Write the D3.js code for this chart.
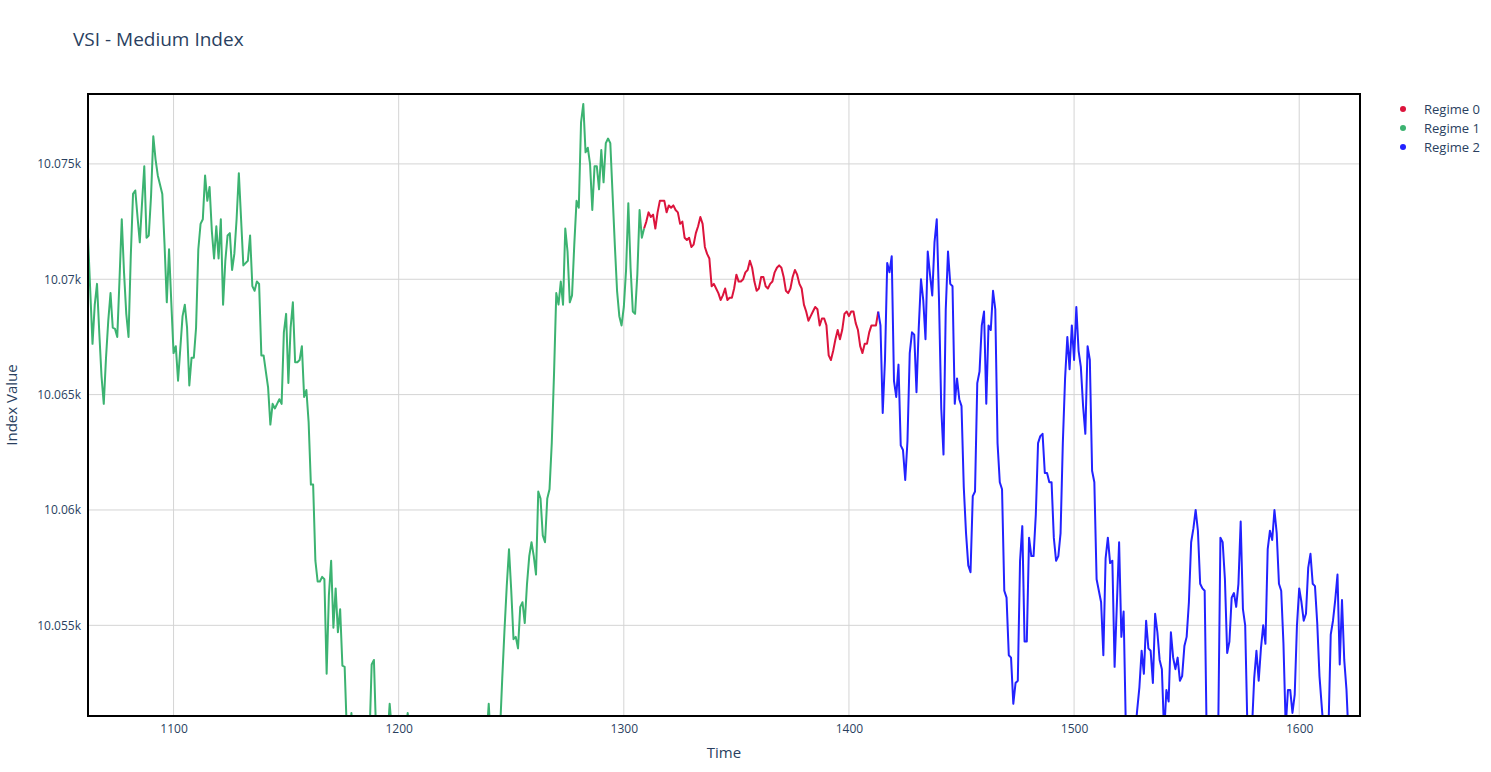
<!DOCTYPE html>
<html>
<head>
<meta charset="utf-8">
<script src="https://cdn.jsdelivr.net/npm/d3@7"></script>
<style>
  html, body { margin: 0; padding: 0; background: #fff; }
  svg { display: block; font-family: "Open Sans", verdana, arial, sans-serif; }
</style>
</head>
<body>
<svg id="chart" width="1491" height="772"></svg>
<script>
// ---------------- DATA ----------------
const chartTitle = "VSI - Medium Index";
const xAxisTitle = "Time";
const yAxisTitle = "Index Value";

const legendLabels = ["Regime 0", "Regime 1", "Regime 2"];

// Regime 1 : time 1062 .. 1309
const regime1Start = 1062;
const regime1Values = [
  10071.85,10069.5,10067.2,10068.9,10069.8,10067.7,10065.8,10064.6,10066.6,10068.2,
  10069.4,10067.9,10067.85,10067.5,10070,10072.6,10070.3,10068.5,10067.5,10071,
  10073.7,10073.85,10072.7,10071.6,10073.3,10074.9,10071.8,10071.9,10073.6,10076.2,
  10075.2,10074.5,10074.1,10073.7,10071.5,10069,10071.3,10069,10066.8,10067.1,
  10065.6,10067,10068.4,10068.9,10067.9,10065.4,10066.6,10066.6,10067.9,10071.3,
  10072.4,10072.6,10074.5,10073.4,10074,10072.1,10070.9,10072.3,10070.9,10072.6,
  10068.9,10070.8,10071.9,10072,10070.4,10071.1,10072.6,10074.6,10072.6,10070.6,
  10070.7,10070.8,10071.9,10069.7,10069.5,10069.9,10069.8,10066.7,10066.7,10066,
  10065.3,10063.7,10064.6,10064.4,10064.6,10064.8,10064.6,10067.7,10068.5,10065.5,
  10067.9,10069,10066.4,10066.4,10066.5,10067.1,10064.9,10065.2,10063.8,10061.1,
  10061.1,10057.8,10056.9,10056.9,10057.1,10057,10052.9,10056.3,10057.8,10054.9,
  10056.6,10054.7,10055.7,10053.25,10053.2,10050.3,10049.6,10051.2,10049.8,10049.2,
  10048.8,10049.5,10048.9,10048.3,10049,10050,10053.3,10053.5,10050.2,10049.4,
  10049.9,10049.1,10048.6,10050.1,10051.6,10050.4,10049.5,10048.8,10049.3,10048.5,
  10049.7,10050.2,10051.2,10050.3,10049.4,10048.7,10048.1,10047.6,10048.2,10047.9,
  10047.1,10046.8,10047.5,10046.9,10046.2,10046.8,10047.4,10046.9,10046.3,10045.8,
  10046.5,10047.1,10046.6,10047.3,10048,10047.4,10047.9,10048.5,10048.1,10048.8,
  10049.3,10048.7,10049.2,10049.8,10049.3,10049.9,10050.4,10050.1,10051.6,10049.8,
  10049.3,10049.9,10049.6,10050.4,10052.7,10054.8,10056.7,10058.3,10056.5,10054.4,
  10054.5,10054,10055.8,10056,10055.1,10056.8,10058,10058.6,10058,10057.2,
  10060.8,10060.5,10058.9,10058.6,10060.5,10060.9,10062.9,10065.9,10069.4,10068.9,
  10069.9,10068.9,10072.2,10071.2,10069,10069.3,10071.5,10073.4,10073.1,10076.8,
  10077.6,10075.5,10075.7,10075,10073,10074.9,10074.9,10073.9,10075.6,10074.2,
  10075.9,10076.1,10075.9,10073.7,10071.5,10069.5,10068.4,10068,10068.8,10070.4,
  10073.3,10070.5,10068.6,10068.5,10070.2,10073,10071.8,10072.2
];

// Regime 0 : time 1310 .. 1413
const regime0Start = 1310;
const regime0Values = [
  10072.5,10072.9,10072.7,10072.8,10072.2,10072.9,10073.4,10073.4,10073.4,10072.9,
  10073.2,10073.1,10073.2,10073,10072.9,10072.4,10072.5,10071.8,10071.7,10071.8,
  10071.4,10071.5,10072,10072.3,10072.7,10072.4,10071.4,10071.1,10070.9,10069.7,
  10069.8,10069.6,10069.4,10069.1,10069.3,10069.6,10069.1,10069.2,10069.2,10069.6,
  10070.2,10069.9,10069.9,10070,10070.3,10070.4,10070.8,10070.5,10069.9,10069.5,
  10069.6,10070.1,10070.1,10069.7,10069.6,10069.8,10069.9,10070.3,10070.5,10070.6,
  10070.5,10070.1,10069.5,10069.4,10069.6,10070.1,10070.4,10070.2,10069.8,10069.6,
  10068.9,10068.6,10068.2,10068.4,10068.6,10068.8,10068.7,10068,10068.3,10068.3,
  10068,10066.7,10066.5,10066.9,10067.4,10067.8,10067.4,10067.8,10068.5,10068.6,
  10068.4,10068.6,10068.6,10068.1,10067.8,10067.1,10066.8,10067.2,10067.2,10067.7,
  10068,10068,10068,10068.6
];

// Regime 2 : time 1414 .. 1627
const regime2Start = 1414;
const regime2Values = [
  10068,10064.2,10066.5,10070.7,10070.3,10071,10065.6,10064.9,10066.3,10062.8,
  10062.6,10061.3,10063,10066.8,10067.7,10067.6,10065.1,10067.9,10070,10069.1,
  10067.4,10071.2,10070.2,10069.3,10071.6,10072.6,10069.1,10064.4,10062.4,10068.7,
  10071.2,10069.8,10069.7,10064.6,10065.7,10064.8,10064.5,10061,10059,10057.6,
  10057.3,10060.6,10060.8,10065.5,10066,10068,10068.6,10064.6,10068,10067.8,
  10069.5,10068.7,10062.9,10061.2,10060.9,10056.5,10056.2,10053.7,10053.6,10051.6,
  10052.5,10052.6,10057.8,10059.3,10054.3,10054.3,10058.8,10058,10058,10059.8,
  10062.9,10063.2,10063.3,10061.6,10061.6,10061.2,10061.2,10058.8,10057.8,10058,
  10059,10062.9,10065.7,10067.5,10066.1,10068,10066.5,10068.8,10066.9,10066.2,
  10064.5,10063.3,10067.1,10066.5,10061.7,10061.2,10057,10056.5,10056,10053.7,
  10057.9,10058.8,10057.7,10057.8,10053.2,10055.9,10058.6,10054.5,10055.6,10050.5,
  10048.8,10048.5,10049.2,10050.2,10051.3,10052.3,10053.9,10052.9,10055.2,10054,
  10053.9,10052.5,10055.5,10054.7,10053.5,10053.1,10050.3,10052.2,10051.7,10054.7,
  10053.6,10053.1,10053.6,10052.6,10052.8,10054.1,10054.5,10056,10058.6,10059.2,
  10060,10059.1,10056.8,10056.6,10056.5,10049.5,10047.5,10047,10047.5,10048.5,
  10050.2,10058.8,10058.6,10057,10053.8,10054.3,10056.2,10056.4,10055.8,10056.8,
  10059.5,10055.7,10055,10050.5,10048.5,10050.5,10052.7,10053.9,10052.6,10054,
  10055,10054.2,10058.3,10059.1,10058.7,10060,10059,10056.8,10056.5,10054.2,
  10050.6,10052.2,10052.2,10051.2,10052,10055,10056.6,10056,10055.2,10055.5,
  10057.5,10058.1,10056.8,10056.7,10055.1,10052.8,10051.5,10050.2,10049,10050.5,
  10054.6,10055.2,10056.1,10057.2,10053.3,10056.1,10053.5,10052.2,10050,10048.5,
  10048,10048.6,10049,10048.5
];

const xTickValues = [1100, 1200, 1300, 1400, 1500, 1600];
const xTickLabels = ["1100", "1200", "1300", "1400", "1500", "1600"];
const yTickValues = [10055, 10060, 10065, 10070, 10075];
const yTickLabels = ["10.055k", "10.06k", "10.065k", "10.07k", "10.075k"];
const yRange = [10051.07, 10078.03];

// ---------------- STYLE / LAYOUT ----------------
const colors = { r0: "#dc143c", r1: "#3cb371", r2: "#2222ff" };
const textColor = "#2a3f5f";
const margin = { left: 88, top: 94, right: 1491 - 1360, bottom: 772 - 716 };
const W = 1491, H = 772;
const pw = W - margin.left - margin.right;
const ph = H - margin.top - margin.bottom;

const svg = d3.select("#chart");

const toPoints = (start, vals) => vals.map((v, i) => ({ t: start + i, v }));
const p1 = toPoints(regime1Start, regime1Values);
const p0 = toPoints(regime0Start, regime0Values);
const p2 = toPoints(regime2Start, regime2Values);

const allT = [...p1, ...p0, ...p2].map(d => d.t);
const x = d3.scaleLinear().domain(d3.extent(allT)).range([margin.left, margin.left + pw]);
const y = d3.scaleLinear().domain(yRange).range([margin.top + ph, margin.top]);

svg.append("rect").attr("x", 0).attr("y", 0).attr("width", W).attr("height", H).attr("fill", "#fff");

// grid
const grid = svg.append("g");
grid.selectAll("line.vx").data(xTickValues).enter().append("line")
  .attr("x1", d => x(d)).attr("x2", d => x(d))
  .attr("y1", margin.top).attr("y2", margin.top + ph)
  .attr("stroke", "#d4d4d4").attr("stroke-width", 1);
grid.selectAll("line.hy").data(yTickValues).enter().append("line")
  .attr("x1", margin.left).attr("x2", margin.left + pw)
  .attr("y1", d => y(d)).attr("y2", d => y(d))
  .attr("stroke", "#d4d4d4").attr("stroke-width", 1);

// axes
const xAxis = d3.axisBottom(x).tickValues(xTickValues)
  .tickFormat((d, i) => xTickLabels[i]).tickSize(0).tickPadding(8);
const gx = svg.append("g").attr("transform", `translate(0,${margin.top + ph})`).call(xAxis);
gx.select(".domain").remove();
gx.selectAll("text").attr("fill", textColor).attr("font-size", 12)
  .attr("font-family", '"Open Sans", verdana, arial, sans-serif');

const yAxis = d3.axisLeft(y).tickValues(yTickValues)
  .tickFormat((d, i) => yTickLabels[i]).tickSize(0).tickPadding(7);
const gy = svg.append("g").attr("transform", `translate(${margin.left},0)`).call(yAxis);
gy.select(".domain").remove();
gy.selectAll("text").attr("fill", textColor).attr("font-size", 12)
  .attr("font-family", '"Open Sans", verdana, arial, sans-serif');

// clip
svg.append("defs").append("clipPath").attr("id", "plotclip")
  .append("rect").attr("x", margin.left).attr("y", margin.top)
  .attr("width", pw).attr("height", ph);

const line = d3.line().x(d => x(d.t)).y(d => y(d.v));
const lines = svg.append("g").attr("clip-path", "url(#plotclip)");
lines.append("path").datum(p1).attr("d", line)
  .attr("fill", "none").attr("stroke", colors.r1).attr("stroke-width", 2).attr("stroke-linejoin", "round");
lines.append("path").datum([p1[p1.length - 1], ...p0]).attr("d", line)
  .attr("fill", "none").attr("stroke", colors.r0).attr("stroke-width", 2).attr("stroke-linejoin", "round");
lines.append("path").datum([p0[p0.length - 1], ...p2]).attr("d", line)
  .attr("fill", "none").attr("stroke", colors.r2).attr("stroke-width", 2).attr("stroke-linejoin", "round");

// frame
svg.append("rect").attr("x", margin.left).attr("y", margin.top)
  .attr("width", pw).attr("height", ph)
  .attr("fill", "none").attr("stroke", "#000").attr("stroke-width", 2);

// title
svg.append("text").attr("x", 73).attr("y", 46).text(chartTitle)
  .attr("fill", textColor).attr("font-size", 19);

// axis titles
svg.append("text").attr("x", margin.left + pw / 2).attr("y", 758)
  .attr("text-anchor", "middle").attr("fill", textColor).attr("font-size", 15).text(xAxisTitle);
svg.append("text").attr("transform", `translate(17,${margin.top + ph / 2}) rotate(-90)`)
  .attr("text-anchor", "middle").attr("fill", textColor).attr("font-size", 15).text(yAxisTitle);

// legend
const legendColors = [colors.r0, colors.r1, colors.r2];
const lg = svg.append("g");
legendLabels.forEach((lab, i) => {
  const cy = 109 + i * 19;
  lg.append("circle").attr("cx", 1403).attr("cy", cy).attr("r", 3).attr("fill", legendColors[i]);
  lg.append("text").attr("x", 1424).attr("y", cy + 4.5).attr("fill", textColor)
    .attr("font-size", 13).text(lab);
});
</script>
</body>
</html>
